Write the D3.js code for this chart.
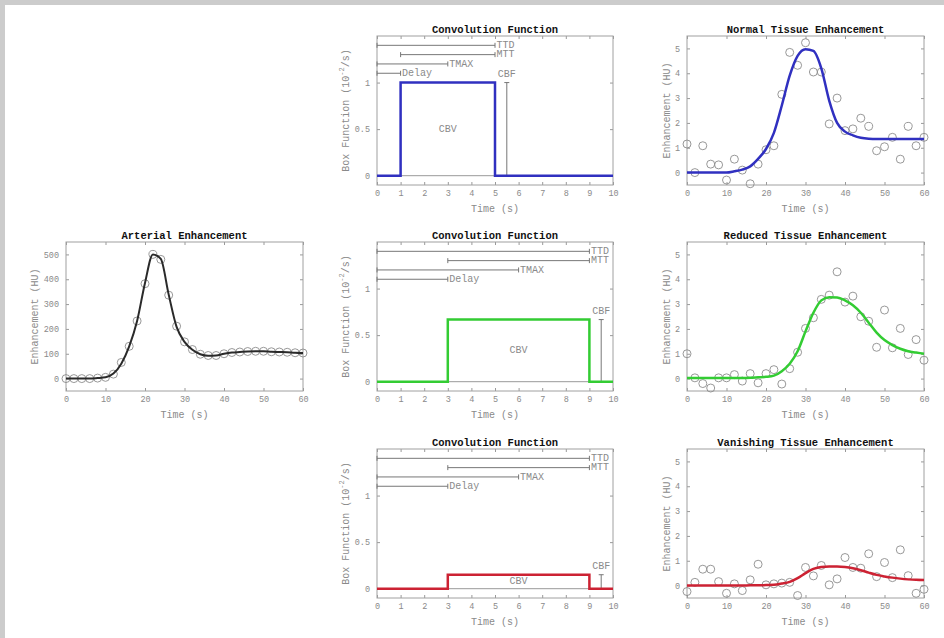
<!DOCTYPE html>
<html>
<head>
<meta charset="utf-8">
<script src="https://cdn.jsdelivr.net/npm/d3@7"></script>
<style>
  body { margin: 0; background: #fff; }
  svg { display: block; }
  text { font-family: "Liberation Mono", "DejaVu Sans Mono", monospace; }
</style>
</head>
<body>
<svg id="fig"></svg>
<script>
// sample times (s) for the enhancement curves
var times = d3.range(0, 61, 2);

// arterial input curve (HU)
var arterialLine = [0, 0, 0, 0, 2, 5, 20, 60, 130, 232, 385, 500, 482, 338, 208, 148, 116, 98, 92, 93, 100, 105, 107, 109, 110, 110, 108, 107, 106, 104, 103];
var arterialPoints = [0, 0, 0, 0, 2, 5, 18, 65, 130, 232, 382, 500, 480, 336, 211, 148, 117, 98, 93, 93, 100, 105, 107, 109, 110, 110, 108, 107, 106, 104, 103];

// tissue curves (HU)
var normalLine = [0, 0, 0, 0, 0, 0, 0.05, 0.12, 0.25, 0.55, 0.95, 1.6, 2.7, 3.9, 4.7, 4.97, 4.9, 4.2, 2.9, 2.0, 1.65, 1.5, 1.4, 1.36, 1.35, 1.35, 1.35, 1.35, 1.35, 1.35, 1.35];
var normalPoints = [1.15, 0, 1.08, 0.34, 0.31, -0.3, 0.54, 0.1, -0.45, 0.34, 0.92, 1.08, 3.15, 4.84, 4.32, 5.23, 4.05, 4.05, 1.96, 3.0, 1.69, 1.76, 2.19, 1.86, 0.88, 1.04, 1.42, 0.54, 1.86, 1.08, 1.42];

var reducedLine = [0.02, 0.02, 0.02, 0.02, 0.02, 0.02, 0.02, 0.02, 0.03, 0.05, 0.07, 0.12, 0.3, 0.6, 1.1, 1.9, 2.65, 3.15, 3.28, 3.27, 3.15, 2.95, 2.65, 2.25, 1.85, 1.55, 1.35, 1.2, 1.1, 1.05, 1.0];
var reducedPoints = [1.0, 0.03, -0.2, -0.38, 0.03, 0.03, 0.16, -0.1, 0.2, -0.17, 0.2, 0.36, -0.22, 0.4, 1.06, 2.02, 2.45, 3.19, 3.36, 4.3, 3.08, 3.32, 2.49, 2.31, 1.26, 2.76, 1.24, 2.02, 0.97, 1.57, 0.74];

var vanishLine = [0, 0, 0, 0, 0, 0, 0, 0, 0.01, 0.01, 0.02, 0.03, 0.08, 0.15, 0.3, 0.5, 0.67, 0.75, 0.77, 0.77, 0.75, 0.7, 0.62, 0.52, 0.43, 0.37, 0.32, 0.28, 0.25, 0.23, 0.22];
var vanishPoints = [-0.24, 0.13, 0.66, 0.66, 0.16, -0.31, 0.07, -0.2, 0.23, 0.86, 0.03, 0.07, 0.1, 0.13, -0.4, 0.73, 0.39, 0.81, 0.03, 0.27, 1.13, 0.73, 0.7, 1.28, 0.36, 0.93, 0.32, 1.44, 0.4, -0.31, -0.15];

// convolution (box) functions, one per row
var boxStart = [1, 3, 3];
var boxEnd = [5, 9, 9];
var boxHeight = [1, 0.667, 0.15];
var tmaxValue = [3, 6, 6];
var cbfX = [5.5, 9.5, 9.5];
var boxColors = ["#3030c0", "#33cc33", "#cc2233"];

var tissueTitles = ["Normal Tissue Enhancement", "Reduced Tissue Enhancement", "Vanishing Tissue Enhancement"];
var tissueLines = [normalLine, reducedLine, vanishLine];
var tissuePoints = [normalPoints, reducedPoints, vanishPoints];

var W = 944, H = 638;
var svg = d3.select("#fig").attr("width", W).attr("height", H);

// grey frame at top/left
svg.append("rect").attr("width", W).attr("height", H).attr("fill", "#cccccc");
svg.append("rect").attr("x", 5).attr("y", 5).attr("width", W - 5).attr("height", H - 5).attr("fill", "#fff");

var rowTops = [36, 242, 449];
var axH = 149;
var gray = "#8a8a8a";

// draws an empty MATLAB-like box axes and returns scales
function makeAxes(left, top, width, xDomain, yDomain, xTicks, yTicks, yFmt, title, ylab, ylabOffset) {
  var g = svg.append("g");
  var x = d3.scaleLinear().domain(xDomain).range([left, left + width]);
  var y = d3.scaleLinear().domain(yDomain).range([top + axH, top]);

  // ticks on all four sides, pointing inward
  g.append("g").attr("transform", "translate(0," + (top + axH) + ")")
    .call(d3.axisBottom(x).tickValues(xTicks).tickSizeInner(-3).tickSizeOuter(0).tickPadding(5));
  g.append("g").attr("transform", "translate(0," + top + ")")
    .call(d3.axisTop(x).tickValues(xTicks).tickSizeInner(-3).tickSizeOuter(0).tickFormat(""));
  g.append("g").attr("transform", "translate(" + left + ",0)")
    .call(d3.axisLeft(y).tickValues(yTicks).tickSizeInner(-3).tickSizeOuter(0).tickPadding(7).tickFormat(yFmt));
  g.append("g").attr("transform", "translate(" + (left + width) + ",0)")
    .call(d3.axisRight(y).tickValues(yTicks).tickSizeInner(-3).tickSizeOuter(0).tickFormat(""));
  g.selectAll(".domain").remove();
  g.selectAll(".tick line").attr("stroke", "#999");
  g.selectAll(".tick text").attr("fill", gray).attr("font-size", 8.5)
    .attr("font-family", "Liberation Mono, DejaVu Sans Mono, monospace");

  g.append("rect").attr("x", left).attr("y", top).attr("width", width).attr("height", axH)
    .attr("fill", "none").attr("stroke", "#a0a0a0").attr("stroke-width", 1);

  g.append("text").attr("x", left + width / 2).attr("y", top - 3)
    .attr("text-anchor", "middle").attr("font-weight", "bold").attr("font-size", 10.5)
    .attr("fill", "#111").text(title);
  g.append("text").attr("x", left + width / 2).attr("y", top + axH + 27)
    .attr("text-anchor", "middle").attr("font-size", 10).attr("fill", gray).text("Time (s)");

  var yl = g.append("text")
    .attr("transform", "translate(" + (left - ylabOffset) + "," + (top + axH / 2) + ") rotate(-90)")
    .attr("text-anchor", "middle").attr("dominant-baseline", "middle")
    .attr("font-size", 10).attr("fill", gray);
  if (typeof ylab === "string") {
    yl.text(ylab);
  } else {
    yl.append("tspan").text(ylab[0]);
    yl.append("tspan").attr("font-size", 7).attr("dy", -4).text(ylab[1]);
    yl.append("tspan").attr("dy", 4).text(ylab[2]);
  }
  return { g: g, x: x, y: y };
}

function drawCurve(ax, lineVals, pointVals, color, lineWidth) {
  var line = d3.line()
    .x(function (d, i) { return ax.x(times[i]); })
    .y(function (d) { return ax.y(d); })
    .curve(d3.curveMonotoneX);
  ax.g.selectAll("circle.pt").data(pointVals).enter().append("circle")
    .attr("class", "pt")
    .attr("cx", function (d, i) { return ax.x(times[i]); })
    .attr("cy", function (d) { return ax.y(d); })
    .attr("r", 4).attr("fill", "none").attr("stroke", "#8c8c8c").attr("stroke-width", 0.9);
  ax.g.append("path").datum(lineVals).attr("d", line)
    .attr("fill", "none").attr("stroke", color).attr("stroke-width", lineWidth)
    .attr("stroke-linejoin", "round");
}

// arterial input panel
var art = makeAxes(66, rowTops[1], 237, [0, 60], [-50, 550], d3.range(0, 61, 10), d3.range(0, 501, 100),
  d3.format("d"), "Arterial Enhancement", "Enhancement (HU)", 31);
drawCurve(art, arterialLine, arterialPoints, "#2a2a2a", 2);

// middle column: convolution functions; right column: tissue curves
for (var r = 0; r < 3; r++) {
  var cv = makeAxes(377, rowTops[r], 236, [0, 10], [-0.1, 1.5], d3.range(0, 11, 1), [0, 0.5, 1],
    d3.format("~g"), "Convolution Function", ["Box Function (10", "-2", "/s)"], 31);

  var ann = cv.g.append("g").attr("stroke", "#777").attr("stroke-width", 1);
  // zero baseline
  ann.append("line").attr("x1", cv.x(0)).attr("x2", cv.x(10))
    .attr("y1", cv.y(0)).attr("y2", cv.y(0)).attr("stroke", "#999");

  var spans = [
    { label: "TTD", a: 0, b: boxEnd[r], lev: 1.4 },
    { label: "MTT", a: boxStart[r], b: boxEnd[r], lev: 1.3 },
    { label: "TMAX", a: 0, b: tmaxValue[r], lev: 1.2 },
    { label: "Delay", a: 0, b: boxStart[r], lev: 1.1 }
  ];
  spans.forEach(function (s) {
    var yy = cv.y(s.lev);
    ann.append("line").attr("x1", cv.x(s.a)).attr("x2", cv.x(s.b)).attr("y1", yy).attr("y2", yy);
    [s.a, s.b].forEach(function (v) {
      ann.append("line").attr("x1", cv.x(v)).attr("x2", cv.x(v)).attr("y1", yy - 2.5).attr("y2", yy + 2.5);
    });
    cv.g.append("text").attr("x", cv.x(s.b) + 1.5).attr("y", yy)
      .attr("dominant-baseline", "middle").attr("font-size", 10).attr("fill", gray).text(s.label);
  });

  // CBF bar
  var cx = cv.x(cbfX[r]);
  ann.append("line").attr("x1", cx).attr("x2", cx).attr("y1", cv.y(0)).attr("y2", cv.y(boxHeight[r]));
  [0, boxHeight[r]].forEach(function (v) {
    ann.append("line").attr("x1", cx - 2.5).attr("x2", cx + 2.5).attr("y1", cv.y(v)).attr("y2", cv.y(v));
  });
  cv.g.append("text").attr("x", cx).attr("y", cv.y(boxHeight[r] + 0.09))
    .attr("text-anchor", "middle").attr("dominant-baseline", "middle")
    .attr("font-size", 10).attr("fill", gray).text("CBF");

  // box function
  var boxPts = [[0, 0], [boxStart[r], 0], [boxStart[r], boxHeight[r]], [boxEnd[r], boxHeight[r]], [boxEnd[r], 0], [10, 0]];
  cv.g.append("path").datum(boxPts)
    .attr("d", d3.line().x(function (d) { return cv.x(d[0]); }).y(function (d) { return cv.y(d[1]); }))
    .attr("fill", "none").attr("stroke", boxColors[r]).attr("stroke-width", 2.5);

  cv.g.append("text").attr("x", cv.x((boxStart[r] + boxEnd[r]) / 2)).attr("y", cv.y(boxHeight[r] / 2))
    .attr("text-anchor", "middle").attr("dominant-baseline", "middle")
    .attr("font-size", 10).attr("fill", gray).text("CBV");

  var ts = makeAxes(687, rowTops[r], 237, [0, 60], [-0.5, 5.5], d3.range(0, 61, 10), d3.range(0, 6, 1),
    d3.format("d"), tissueTitles[r], "Enhancement (HU)", 20);
  drawCurve(ts, tissueLines[r], tissuePoints[r], boxColors[r], 2.5);
}
</script>
</body>
</html>
